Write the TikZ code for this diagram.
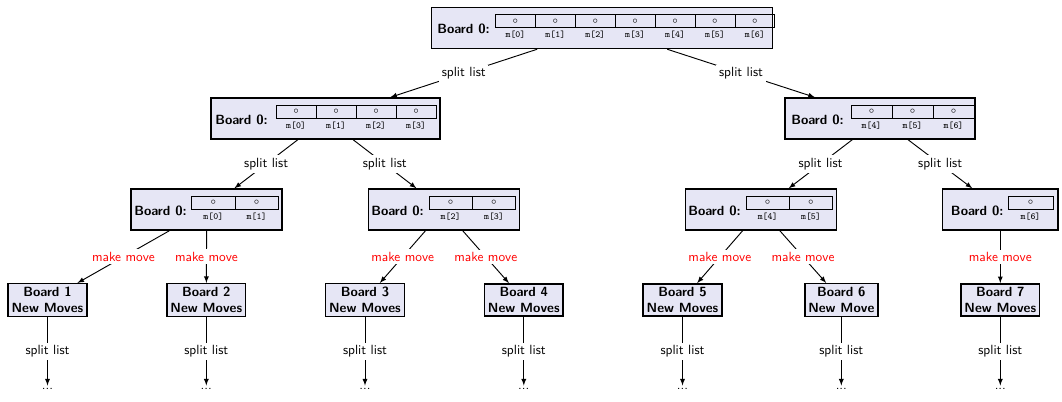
\documentclass[tikz,border=0pt]{standalone}
\usepackage{tikz}
\usetikzlibrary{arrows.meta}
\tikzset{>=latex}
\definecolor{boardfill}{RGB}{230,230,245}
\def\px{0.75pt}
\tikzset{
    board/.style={draw, line width=1.1pt, fill=boardfill, minimum height=41*\px, inner sep=0pt},
    boardtitle/.style={font=\sffamily\bfseries, inner sep=0pt},
    cell/.style={draw, line width=0.6pt, minimum height=13*\px, inner sep=0pt, font=\scriptsize},
    cellname/.style={font=\scriptsize\ttfamily, inner sep=0pt},
    movebox/.style={draw, line width=1.1pt, fill=boardfill, font=\sffamily\bfseries, align=center, inner sep=2.6pt},
    splitlabel/.style={fill=white, font=\sffamily, inner sep=2pt},
    movelabel/.style={fill=white, font=\sffamily, text=red, inner sep=2pt},
    link/.style={->, line width=0.7pt},
    dotsnode/.style={font=\sffamily, inner sep=2pt}
}

\begin{document}
\begin{tikzpicture}[x=\px, y=-\px]

\useasboundingbox (0,0) rectangle (1062,401);

% boards holding the move list m[]
\foreach \bname/\xc/\yc/\bw/\tx/\cx/\cw/\first/\ncells in {
    b0/602/28/341/437/495.5/39.9/0/7,
    bL/325.5/118.5/229/215/276/40/0/4,
    bR/880/118.5/190/791/851/41/4/3,
    b00/206.7/209.5/151/134/191.7/43.3/0/2,
    b01/444/209.5/151/371/429/43.3/2/2,
    b10/761/209.5/151/688/746/43.3/4/2,
    b11/1000.3/209.5/115.6/950.7/1008/45/6/1}{
    \node[board, minimum width=\bw*\px] (\bname) at (\xc,\yc) {};
    \node[boardtitle, anchor=west] (\bname-title) at (\tx,\yc+1) {Board 0:};
    \foreach \c in {1,...,\ncells}{
        \pgfmathtruncatemacro{\k}{\first+\c-1}
        \node[cell, minimum width=\cw*\px] (\bname-c\k) at ({\cx+(\c-0.5)*\cw},\yc-7) {$\circ$};
        \node[cellname] (\bname-m\k) at ({\cx+(\c-0.5)*\cw},\yc+7) {m[\k]};
    }
}

% splitting the list
\draw[link] (b0) -- node[splitlabel]{split list} (bL);
\draw[link] (b0) -- node[splitlabel]{split list} (bR);
\draw[link] (bL) -- node[splitlabel]{split list} (b00);
\draw[link] (bL) -- node[splitlabel]{split list} (b01);
\draw[link] (bR) -- node[splitlabel]{split list} (b10);
\draw[link] (bR) -- node[splitlabel]{split list} (b11);

% new boards
\foreach \k/\xc/\txt in {1/47.5/Moves, 2/206.3/Moves, 3/365/Moves, 4/523.8/Moves,
                         5/682.5/Moves, 6/841.3/Move, 7/1000.3/Moves}{
    \node[movebox] (m\k) at (\xc,300) {Board \k\\New \txt};
    \node[dotsnode] (d\k) at (\xc,389) {...};
    \draw[link] (m\k) -- node[splitlabel]{split list} (d\k);
}

% making the moves
\draw[link] (b00) -- node[movelabel]{make move} (m1);
\draw[link] (b00) -- node[movelabel]{make move} (m2);
\draw[link] (b01) -- node[movelabel]{make move} (m3);
\draw[link] (b01) -- node[movelabel]{make move} (m4);
\draw[link] (b10) -- node[movelabel]{make move} (m5);
\draw[link] (b10) -- node[movelabel]{make move} (m6);
\draw[link] (b11) -- node[movelabel]{make move} (m7);

\end{tikzpicture}
\end{document}
